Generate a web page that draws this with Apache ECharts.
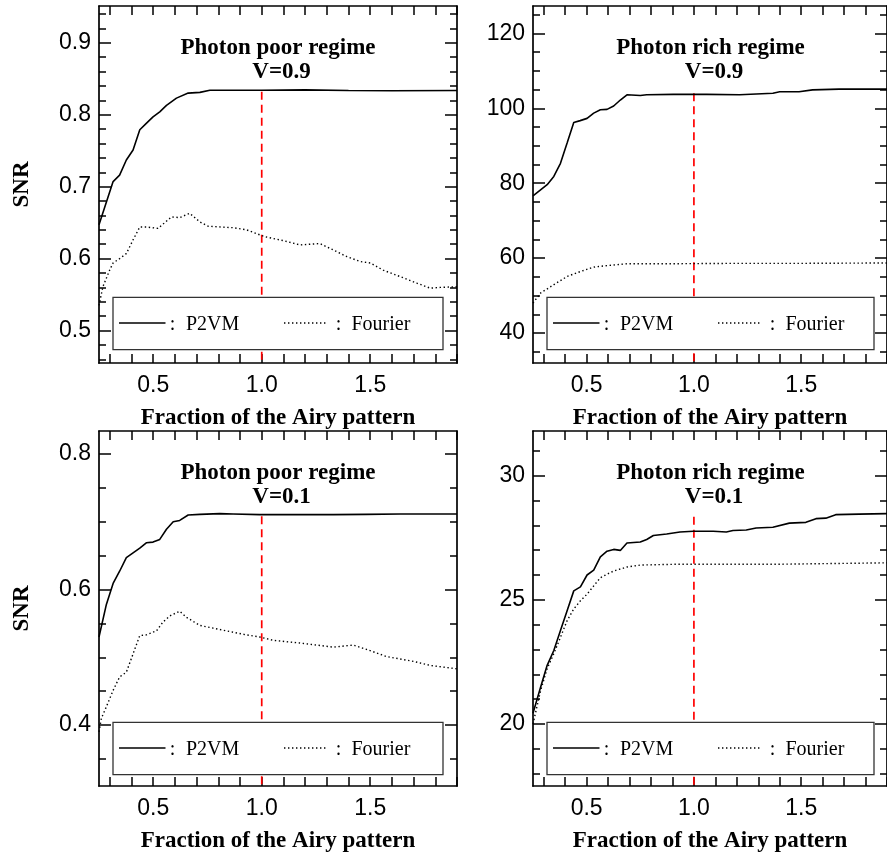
<!DOCTYPE html>
<html><head><meta charset="utf-8">
<script src="https://cdn.jsdelivr.net/npm/echarts@6/dist/echarts.min.js"></script>
<style>html,body{margin:0;padding:0;background:#fff}#c{width:887px;height:854px}</style>
</head><body><div id="c"></div>
<script>
// ---------- axis / tick values ----------
const xRange = [0.25, 1.9];
const xMajorTicks = [0.5, 1.0, 1.5];
const xTickStep = 0.1;
const yMin = [0.455, 32, 0.31, 17.5];
const yMax = [0.951, 127.3, 0.834, 31.8];
const yMajorTicks = [[0.5, 0.6, 0.7, 0.8, 0.9], [40, 60, 80, 100, 120], [0.4, 0.6, 0.8], [20, 25, 30]];
const yMinorStep = [0.02, 5, 0.05, 1];
const yLabelDecimals = [1, 0, 1, 0];
const titleLine1 = ['Photon poor regime', 'Photon rich regime', 'Photon poor regime', 'Photon rich regime'];
const titleLine2 = ['V=0.9', 'V=0.9', 'V=0.1', 'V=0.1'];
const showYName = [true, false, true, false];
const xName = 'Fraction of the Airy pattern';
const yName = 'SNR';
const legendNames = ['P2VM', 'Fourier'];
const markerX = 1.0;
const markerTop = [0.832, 104.0, 0.708, 28.35];

// ---------- series values ----------
// Panel 1: photon poor, V=0.9
const p1P2vmX = [0.25, 0.315, 0.345, 0.376, 0.407, 0.438, 0.468, 0.499, 0.53, 0.561, 0.607, 0.661, 0.715, 0.761, 0.85, 1.0, 1.2, 1.4, 1.6, 1.9];
const p1P2vmY = [0.647, 0.707, 0.716, 0.737, 0.751, 0.779, 0.788, 0.797, 0.804, 0.813, 0.823, 0.830, 0.831, 0.834, 0.834, 0.834, 0.8345, 0.8335, 0.8333, 0.8335];
const p1FourX = [0.25, 0.268, 0.299, 0.315, 0.345, 0.376, 0.407, 0.438, 0.468, 0.522, 0.584, 0.622, 0.668, 0.715, 0.753, 0.868, 0.93, 1.0, 1.022, 1.099, 1.176, 1.268, 1.33, 1.391, 1.453, 1.5, 1.56, 1.638, 1.715, 1.776, 1.822, 1.9];
const p1FourY = [0.535, 0.561, 0.584, 0.594, 0.600, 0.607, 0.626, 0.644, 0.644, 0.642, 0.658, 0.657, 0.663, 0.651, 0.645, 0.643, 0.640, 0.632, 0.630, 0.625, 0.619, 0.621, 0.612, 0.603, 0.596, 0.594, 0.584, 0.575, 0.566, 0.559, 0.560, 0.561];
// Panel 2: photon rich, V=0.9
const p2P2vmX = [0.25, 0.316, 0.347, 0.378, 0.409, 0.44, 0.47, 0.502, 0.533, 0.564, 0.595, 0.626, 0.657, 0.688, 0.75, 0.78, 0.904, 1.059, 1.213, 1.368, 1.4, 1.49, 1.553, 1.677, 1.9];
const p2P2vmY = [76.6, 79.6, 81.8, 85.3, 90.7, 96.2, 96.7, 97.3, 98.7, 99.6, 99.7, 100.6, 102.2, 103.6, 103.4, 103.6, 103.7, 103.7, 103.6, 104.0, 104.4, 104.4, 104.9, 105.1, 105.1];
const p2FourX = [0.25, 0.262, 0.286, 0.347, 0.409, 0.47, 0.533, 0.595, 0.688, 0.9, 1.2, 1.5, 1.9];
const p2FourY = [48.0, 48.9, 50.7, 52.9, 55.1, 56.4, 57.6, 58.0, 58.5, 58.5, 58.6, 58.6, 58.7];
// Panel 3: photon poor, V=0.1
const p3P2vmX = [0.25, 0.284, 0.315, 0.345, 0.376, 0.407, 0.438, 0.468, 0.499, 0.53, 0.561, 0.592, 0.622, 0.661, 0.715, 0.807, 0.868, 0.99, 1.33, 1.48, 1.638, 1.9];
const p3P2vmY = [0.530, 0.578, 0.609, 0.627, 0.647, 0.654, 0.661, 0.669, 0.670, 0.674, 0.689, 0.700, 0.702, 0.710, 0.711, 0.712, 0.7115, 0.7105, 0.7105, 0.711, 0.7115, 0.7115];
const p3FourX = [0.25, 0.261, 0.284, 0.315, 0.345, 0.376, 0.407, 0.438, 0.468, 0.515, 0.545, 0.576, 0.622, 0.653, 0.715, 0.776, 0.868, 0.93, 0.99, 1.053, 1.176, 1.33, 1.422, 1.48, 1.576, 1.699, 1.776, 1.9];
const p3FourY = [0.39, 0.41, 0.427, 0.451, 0.471, 0.478, 0.505, 0.532, 0.533, 0.539, 0.552, 0.561, 0.568, 0.559, 0.547, 0.543, 0.537, 0.533, 0.530, 0.525, 0.521, 0.515, 0.518, 0.512, 0.501, 0.494, 0.488, 0.483];
// Panel 4: photon rich, V=0.1
const p4P2vmX = [0.25, 0.286, 0.316, 0.347, 0.378, 0.409, 0.44, 0.471, 0.502, 0.533, 0.564, 0.595, 0.626, 0.657, 0.688, 0.75, 0.78, 0.811, 0.873, 0.935, 0.997, 1.09, 1.151, 1.182, 1.244, 1.29, 1.368, 1.445, 1.522, 1.569, 1.615, 1.661, 1.77, 1.9];
const p4P2vmY = [20.43, 21.5, 22.36, 22.96, 23.76, 24.56, 25.36, 25.52, 26.0, 26.2, 26.73, 26.96, 27.03, 26.99, 27.29, 27.33, 27.43, 27.59, 27.65, 27.73, 27.76, 27.76, 27.73, 27.79, 27.81, 27.89, 27.92, 28.09, 28.12, 28.27, 28.29, 28.43, 28.45, 28.47];
const p4FourX = [0.25, 0.286, 0.316, 0.347, 0.378, 0.409, 0.44, 0.471, 0.502, 0.533, 0.564, 0.595, 0.626, 0.688, 0.75, 0.904, 1.368, 1.9];
const p4FourY = [20.0, 21.36, 22.23, 22.83, 23.49, 24.16, 24.63, 24.96, 25.23, 25.56, 25.89, 26.03, 26.16, 26.32, 26.4, 26.43, 26.43, 26.49];

const panelSeries = [
  [[p1P2vmX, p1P2vmY], [p1FourX, p1FourY]],
  [[p2P2vmX, p2P2vmY], [p2FourX, p2FourY]],
  [[p3P2vmX, p3P2vmY], [p3FourX, p3FourY]],
  [[p4P2vmX, p4P2vmY], [p4FourX, p4FourY]]
];

// ---------- layout ----------
const grids = [
  {left: 99, top: 6, width: 358, height: 357},
  {left: 533, top: 6, width: 355, height: 357},
  {left: 99, top: 431, width: 358, height: 357},
  {left: 533, top: 431, width: 355, height: 357}
];
const SERIF = '"Liberation Serif", "Times New Roman", serif';
const SANS = '"Liberation Sans", Arial, sans-serif';
const frameLine = {show: true, lineStyle: {color: '#000', width: 1.7}};

function stepTicks(lo, hi, step) {
  const out = [];
  const start = Math.ceil(lo / step - 1e-9);
  for (let k = start; k * step <= hi + 1e-9; k++) out.push(+(k * step).toFixed(6));
  return out;
}
const zip = (xs, ys) => xs.map((x, i) => [x, ys[i]]);

const xAxes = [], yAxes = [], series = [], graphics = [];
const xTicks = stepTicks(xRange[0], xRange[1], xTickStep);

grids.forEach((g, i) => {
  xAxes.push({
    type: 'value', gridIndex: i, position: 'bottom', min: xRange[0], max: xRange[1],
    axisLine: frameLine,
    axisTick: {show: true, inside: true, length: 9, customValues: xTicks, lineStyle: {color: '#000', width: 1.5}},
    axisLabel: {show: true, customValues: xMajorTicks, formatter: v => v.toFixed(1), margin: 11,
      color: '#000', fontFamily: SANS, fontSize: 23},
    splitLine: {show: false},
    name: xName, nameLocation: 'middle', nameGap: 44,
    nameTextStyle: {fontFamily: SERIF, fontWeight: 'bold', fontSize: 23, color: '#000'}
  });
  xAxes.push({
    type: 'value', gridIndex: i, position: 'top', min: xRange[0], max: xRange[1],
    axisLine: frameLine,
    axisTick: {show: true, inside: true, length: 9, customValues: xTicks, lineStyle: {color: '#000', width: 1.5}},
    axisLabel: {show: false}, splitLine: {show: false}
  });
  const minor = stepTicks(yMin[i], yMax[i], yMinorStep[i]);
  const dec = yLabelDecimals[i];
  yAxes.push({
    type: 'value', gridIndex: i, position: 'left', min: yMin[i], max: yMax[i],
    axisLine: frameLine,
    axisTick: {show: true, inside: true, length: 12, customValues: yMajorTicks[i], lineStyle: {color: '#000', width: 1.5}},
    axisLabel: {show: true, customValues: yMajorTicks[i], formatter: v => v.toFixed(dec), margin: 8,
      color: '#000', fontFamily: SANS, fontSize: 23},
    splitLine: {show: false},
    name: showYName[i] ? yName : '', nameLocation: 'middle', nameGap: 65, nameRotate: 90,
    nameTextStyle: {fontFamily: SERIF, fontWeight: 'bold', fontSize: 23, color: '#000'}
  });
  yAxes.push({
    type: 'value', gridIndex: i, position: 'left', min: yMin[i], max: yMax[i],
    axisLine: {show: false},
    axisTick: {show: true, inside: true, length: 7, customValues: minor, lineStyle: {color: '#000', width: 1.5}},
    axisLabel: {show: false}, splitLine: {show: false}
  });
  yAxes.push({
    type: 'value', gridIndex: i, position: 'right', min: yMin[i], max: yMax[i],
    axisLine: frameLine,
    axisTick: {show: true, inside: true, length: 12, customValues: yMajorTicks[i], lineStyle: {color: '#000', width: 1.5}},
    axisLabel: {show: false}, splitLine: {show: false}
  });
  yAxes.push({
    type: 'value', gridIndex: i, position: 'right', min: yMin[i], max: yMax[i],
    axisLine: {show: false},
    axisTick: {show: true, inside: true, length: 7, customValues: minor, lineStyle: {color: '#000', width: 1.5}},
    axisLabel: {show: false}, splitLine: {show: false}
  });

  const [solid, dotted] = panelSeries[i];
  series.push({
    type: 'line', name: legendNames[0], xAxisIndex: 2 * i, yAxisIndex: 4 * i,
    data: zip(solid[0], solid[1]), showSymbol: false, symbol: 'none', silent: true, z: 3,
    lineStyle: {color: '#000', width: 1.6}
  });
  series.push({
    type: 'line', name: legendNames[1], xAxisIndex: 2 * i, yAxisIndex: 4 * i,
    data: zip(dotted[0], dotted[1]), showSymbol: false, symbol: 'none', silent: true, z: 3,
    lineStyle: {color: '#000', width: 1.4, type: [1.4, 2.6]}
  });
  series.push({
    type: 'line', name: 'marker', xAxisIndex: 2 * i, yAxisIndex: 4 * i,
    data: [[markerX, markerTop[i]], [markerX, yMin[i]]], showSymbol: false, symbol: 'none', silent: true, z: 2,
    lineStyle: {color: '#ff0000', width: 1.7, type: [8, 5]}
  });

  const cx = g.left + g.width / 2;
  graphics.push({type: 'text', z: 100, style: {text: titleLine1[i], x: cx, y: g.top + 42.5,
    align: 'center', verticalAlign: 'middle', textAlign: 'center', textVerticalAlign: 'middle',
    fontFamily: SERIF, fontWeight: 'bold', fontSize: 23, fill: '#000'}});
  graphics.push({type: 'text', z: 100, style: {text: titleLine2[i], x: cx + 3.5, y: g.top + 66,
    align: 'center', verticalAlign: 'middle', textAlign: 'center', textVerticalAlign: 'middle',
    fontFamily: SERIF, fontWeight: 'bold', fontSize: 23, fill: '#000'}});

  const bx = g.left + 14, by = g.top + g.height - 65.6, bw = g.width - 28, bh = 52.3;
  const ly = by + 25.6;
  graphics.push({type: 'rect', z: 100, shape: {x: bx, y: by, width: bw, height: bh},
    style: {fill: '#fff', stroke: '#333', lineWidth: 1.3}});
  graphics.push({type: 'line', z: 101, shape: {x1: bx + 6, y1: ly, x2: bx + 52.5, y2: ly},
    style: {stroke: '#000', lineWidth: 1.6}});
  graphics.push({type: 'line', z: 101, shape: {x1: bx + 171, y1: ly, x2: bx + 213, y2: ly},
    style: {stroke: '#000', lineWidth: 1.4, lineDash: [1.4, 2.6]}});
  const txt = (t, x, align) => ({type: 'text', z: 101, style: {text: t, x: x, y: ly + 2,
    align: align, verticalAlign: 'middle', textAlign: align, textVerticalAlign: 'middle',
    fontFamily: SERIF, fontSize: 20, fill: '#000'}});
  graphics.push(txt(':', bx + 59.6, 'center'));
  graphics.push(txt(legendNames[0], bx + 73, 'left'));
  graphics.push(txt(':', bx + 225.5, 'center'));
  graphics.push(txt(legendNames[1], bx + 238.5, 'left'));
});

const chart = echarts.init(document.getElementById('c'), null, {renderer: 'canvas'});
chart.setOption({
  animation: false,
  backgroundColor: '#fff',
  grid: grids.map(g => Object.assign({containLabel: false}, g)),
  xAxis: xAxes,
  yAxis: yAxes,
  series: series,
  graphic: graphics
});
</script></body></html>
